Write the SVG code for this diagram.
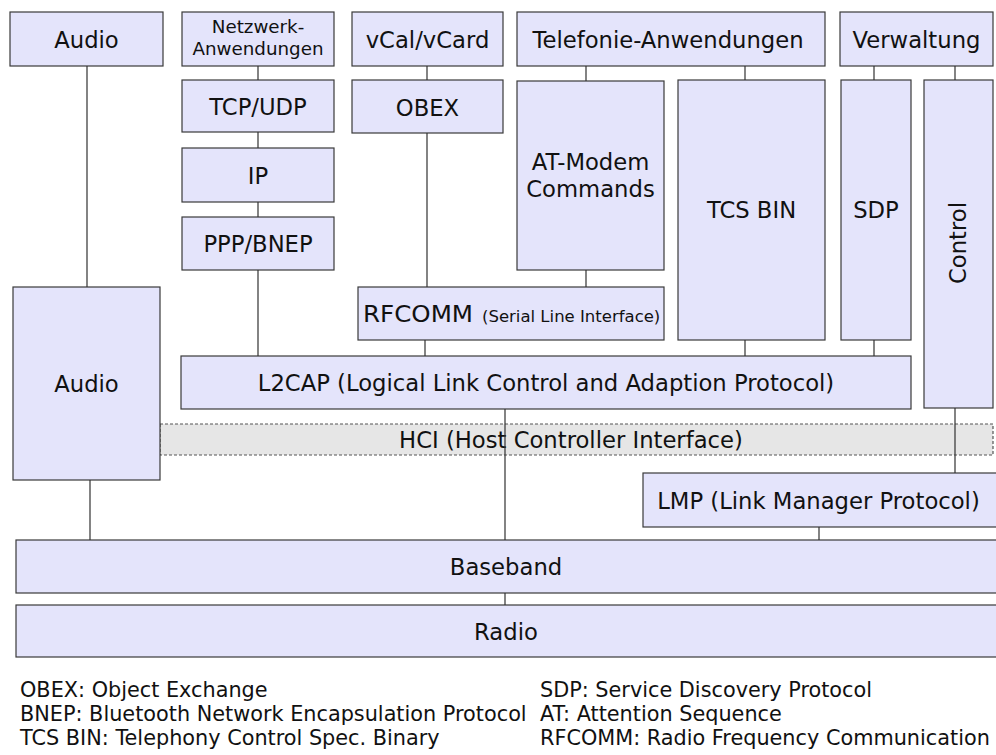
<svg xmlns="http://www.w3.org/2000/svg" width="996" height="755" viewBox="0 0 996 755">
<style>
.box{fill:#e4e4fb;stroke:#3a3a3a;stroke-width:1.2}
.hci{fill:#e6e6e6;stroke:#555;stroke-width:1.2;stroke-dasharray:3,2}
.t{font-family:"DejaVu Sans",Verdana,sans-serif;font-size:22.7px;fill:#111;text-anchor:middle}
.s{font-size:18.3px}
.lg{font-family:"DejaVu Sans",Verdana,sans-serif;font-size:20.8px;fill:#111}
.c{stroke:#333;stroke-width:1.2;fill:none}
</style>
<rect width="996" height="755" fill="#fff"/>
<g id="hci"><rect class="hci" x="160" y="424" width="833" height="31"/><text class="t" x="571" y="447.5">HCI (Host Controller Interface)</text></g>
<g id="audio-top"><rect class="box" x="10" y="12" width="153" height="54"/><text class="t" x="86.5" y="47.5">Audio</text></g>
<g id="netzwerk"><rect class="box" x="182" y="12" width="152" height="54"/><text class="t s" x="258" y="33">Netzwerk-</text><text class="t s" x="258" y="55">Anwendungen</text></g>
<g id="vcal"><rect class="box" x="352" y="12" width="151" height="54"/><text class="t" x="427.5" y="47.5">vCal/vCard</text></g>
<g id="telefonie"><rect class="box" x="517" y="12" width="308" height="54"/><text class="t" x="668" y="47.5">Telefonie-Anwendungen</text></g>
<g id="verwaltung"><rect class="box" x="840" y="12" width="153" height="54"/><text class="t" x="916.5" y="47.5">Verwaltung</text></g>
<g id="tcpudp"><rect class="box" x="182" y="80" width="152" height="52"/><text class="t" x="258" y="114.5">TCP/UDP</text></g>
<g id="obex"><rect class="box" x="352" y="80" width="151" height="53"/><text class="t" x="427.5" y="115.5">OBEX</text></g>
<g id="ip"><rect class="box" x="182" y="148" width="152" height="54"/><text class="t" x="258" y="183.5">IP</text></g>
<g id="ppp"><rect class="box" x="182" y="217" width="152" height="53"/><text class="t" x="258" y="251.5">PPP/BNEP</text></g>
<g id="atmodem"><rect class="box" x="517" y="81" width="147" height="189"/><text class="t" x="590.5" y="170">AT-Modem</text><text class="t" x="590.5" y="197">Commands</text></g>
<g id="tcsbin"><rect class="box" x="678" y="80" width="147" height="260"/><text class="t" x="751.5" y="218">TCS BIN</text></g>
<g id="sdp"><rect class="box" x="841" y="80" width="70" height="260"/><text class="t" x="876" y="218">SDP</text></g>
<g id="control"><rect class="box" x="924" y="80" width="69" height="328"/><text class="t" transform="translate(966,243) rotate(-90)">Control</text></g>
<g id="rfcomm"><rect class="box" x="358" y="287" width="306" height="53"/><text class="t" x="363" y="321.5" style="text-anchor:start" textLength="110" lengthAdjust="spacingAndGlyphs">RFCOMM</text><text class="t" x="482" y="321.5" style="text-anchor:start;font-size:16.5px">(Serial Line Interface)</text></g>
<g id="l2cap"><rect class="box" x="181" y="356" width="730" height="53"/><text class="t" x="546" y="390.5">L2CAP (Logical Link Control and Adaption Protocol)</text></g>
<g id="audio-big"><rect class="box" x="13" y="287" width="147" height="193"/><text class="t" x="86.5" y="391.5">Audio</text></g>
<g id="lmp"><rect class="box" x="643" y="473" width="360" height="54"/><text class="t" x="818.5" y="508.5">LMP (Link Manager Protocol)</text></g>
<g id="baseband"><rect class="box" x="16" y="540" width="990" height="53"/><text class="t" x="506" y="574.5">Baseband</text></g>
<g id="radio"><rect class="box" x="16" y="605" width="990" height="52"/><text class="t" x="506" y="639.5">Radio</text></g>
<g id="connectors">
<path class="c" d="M87 66V287M90 480V540M258 66V80M258 132V148M258 202V217M258 270V356M427 66V80M427 133V287M425 340V356M586 66V81M586 270V287M745 66V80M745 340V356M874 66V80M874 340V356M955 66V80M955 408V473M505 409V540M819 527V540M505 593V605"/>
</g>
<g id="legend">
<text class="lg" x="20" y="697">OBEX: Object Exchange</text>
<text class="lg" x="20" y="721">BNEP: Bluetooth Network Encapsulation Protocol</text>
<text class="lg" x="20" y="745">TCS BIN: Telephony Control Spec. Binary</text>
<text class="lg" x="540" y="697">SDP: Service Discovery Protocol</text>
<text class="lg" x="540" y="721">AT: Attention Sequence</text>
<text class="lg" x="540" y="745">RFCOMM: Radio Frequency Communication</text>
</g>
</svg>
